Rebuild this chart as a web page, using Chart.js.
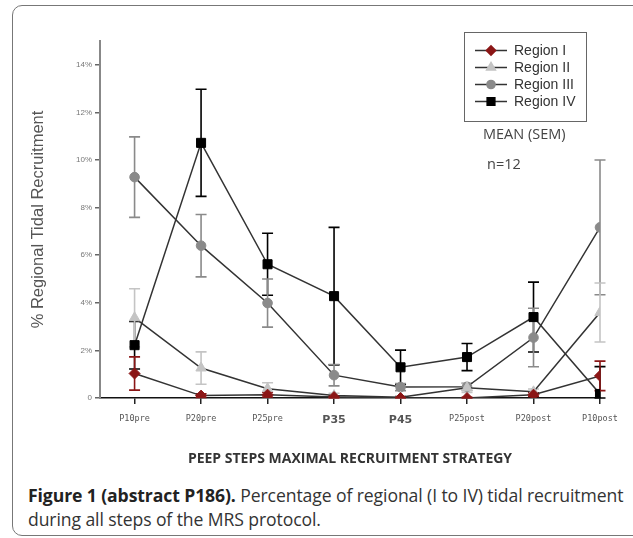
<!DOCTYPE html>
<html>
<head>
<meta charset="utf-8">
<script src="https://cdn.jsdelivr.net/npm/chart.js@4/dist/chart.umd.min.js"></script>
<style>
body { margin: 0; background: #fff; }
#wrap { position: relative; width: 633px; height: 538px; overflow: hidden; }
#frame { position: absolute; left: 12px; top: 5px; width: 630px; height: 529px; border: 1.5px solid #777; border-radius: 10px; }
#chart { position: absolute; left: 0; top: 0; }
#caption { position: absolute; left: 28px; top: 483px; width: 600px; font-family: "Open Sans", sans-serif; font-size: 17.6px; line-height: 24px; color: #333; letter-spacing: -0.1px; }
#caption b { color: #222; }
</style>
</head>
<body>
<div id="wrap">
  <div id="frame"></div>
  <canvas id="chart" width="633" height="480"></canvas>
  <div id="caption"><b>Figure 1 (abstract P186).</b> Percentage of regional (I to IV) tidal recruitment during all steps of the MRS protocol.</div>
</div>
<script>
const steps = ['P10pre', 'P20pre', 'P25pre', 'P35', 'P45', 'P25post', 'P20post', 'P10post'];
const yTicks = [0, 2, 4, 6, 8, 10, 12, 14];

// mean values (%)
const region1 = [1.03, 0.10, 0.14, 0.04, 0.0, 0.0, 0.14, 0.93];
const region2 = [3.37, 1.26, 0.39, 0.10, 0.03, 0.43, 0.26, 3.59];
const region3 = [9.28, 6.40, 3.99, 0.96, 0.46, 0.47, 2.54, 7.17];
const region4 = [2.22, 10.72, 5.62, 4.28, 1.29, 1.72, 3.40, 0.17];

// SEM (%)
const sem1 = [0.70, 0.08, 0.10, 0.05, 0.03, 0.03, 0.08, 0.62];
const sem2 = [1.22, 0.68, 0.25, 0.10, 0.06, 0.20, 0.12, 1.24];
const sem3 = [1.69, 1.31, 1.01, 0.45, 0.15, 0.15, 1.23, 2.83];
const sem4 = [1.00, 2.25, 1.30, 2.89, 0.72, 0.57, 1.47, 1.15];

function pts(arr) { return arr.map((v, i) => ({ x: i, y: v })); }

const errorBars = {
  id: 'errorBars',
  beforeDatasetsDraw(chart) {
    const c = chart.ctx, xs = chart.scales.x, ys = chart.scales.y;
    chart.data.datasets.slice().reverse().forEach(ds => {
      c.save();
      c.strokeStyle = ds.errColor;
      c.lineWidth = 1.6;
      ds.data.forEach((p, i) => {
        const x = xs.getPixelForValue(p.x);
        const top = ys.getPixelForValue(p.y + ds.sem[i]);
        const bot = ys.getPixelForValue(Math.max(0, p.y - ds.sem[i]));
        c.beginPath();
        c.moveTo(x, top); c.lineTo(x, bot);
        c.moveTo(x - 5.5, top); c.lineTo(x + 5.5, top);
        c.moveTo(x - 5.5, bot); c.lineTo(x + 5.5, bot);
        c.stroke();
      });
      c.restore();
    });
  }
};

const boxLegend = {
  id: 'boxLegend',
  afterDraw(chart) {
    const c = chart.ctx;
    c.save();
    c.strokeStyle = '#666';
    c.lineWidth = 1;
    c.strokeRect(464.5, 32.5, 122, 89);
    chart.data.datasets.forEach((ds, i) => {
      const y = 50.5 + i * 17;
      c.strokeStyle = '#333';
      c.lineWidth = 1.5;
      c.beginPath(); c.moveTo(475, y); c.lineTo(507, y); c.stroke();
      c.fillStyle = ds.pointBackgroundColor;
      c.strokeStyle = ds.pointBackgroundColor;
      Chart.helpers.drawPoint(c, { pointStyle: ds.pointStyle, radius: ds.pointRadius * 0.85, borderWidth: 1 }, 491, y);
      c.fillStyle = '#333';
      c.font = '14px "Liberation Sans", Arial, sans-serif';
      c.textBaseline = 'middle';
      c.fillText(ds.label, 514, y + 1);
    });
    c.fillStyle = '#444';
    c.font = '14.5px "Open Sans", sans-serif';
    c.textAlign = 'left';
    c.fillText('MEAN (SEM)', 483, 135);
    c.fillText('n=12', 487, 165);
    c.restore();
  }
};

const mk = (label, data, sem, color, style, r) => ({
  label: label,
  data: pts(data),
  sem: sem,
  errColor: color,
  borderColor: '#333',
  borderWidth: 1.5,
  pointStyle: style,
  pointRadius: r,
  pointBackgroundColor: color,
  pointBorderColor: color,
  pointBorderWidth: 1,
  fill: false,
  tension: 0
});

new Chart(document.getElementById('chart'), {
  type: 'line',
  data: {
    datasets: [
      mk('Region I', region1, sem1, '#8b1616', 'rectRot', 5.5),
      mk('Region II', region2, sem2, '#c4c4c4', 'triangle', 6),
      mk('Region III', region3, sem3, '#8a8a8a', 'circle', 4.8),
      mk('Region IV', region4, sem4, '#000000', 'rect', 6.4)
    ]
  },
  options: {
    responsive: false,
    animation: false,
    layout: { padding: { left: 0, top: 41, right: 33, bottom: 0 } },
    plugins: { legend: { display: false }, tooltip: { enabled: false } },
    scales: {
      x: {
        type: 'linear',
        min: -0.52,
        max: 7,
        afterFit(s) { s.height = 82; },
        afterBuildTicks(s) { s.ticks = s.ticks.filter(t => Number.isInteger(t.value)); },
        ticks: {
          stepSize: 1,
          includeBounds: false,
          padding: 10,
          color: '#555',
          maxRotation: 0,
          autoSkip: false,
          font: ctx => {
            const lab = steps[ctx.tick ? ctx.tick.value : 0] || '';
            return lab.length <= 3
              ? { family: '"DejaVu Sans", sans-serif', size: 11, weight: 'bold' }
              : { family: '"DejaVu Sans Mono", monospace', size: 8.5 };
          },
          callback: v => steps[v] || ''
        },
        grid: { drawOnChartArea: false, tickLength: 6, color: '#222', lineWidth: 1.5 },
        border: { color: '#111', width: 1.5 },
        title: {
          display: true,
          text: 'PEEP STEPS MAXIMAL RECRUITMENT STRATEGY',
          color: '#333',
          font: { family: '"Open Sans", sans-serif', size: 14, weight: 'bold' },
          padding: { top: 0, bottom: 13 }
        }
      },
      y: {
        min: 0,
        max: 15,
        afterFit(s) { s.width = 100; },
        afterBuildTicks(s) { s.ticks = yTicks.map(v => ({ value: v })); },
        ticks: {
          stepSize: 2,
          includeBounds: false,
          padding: 3,
          color: '#777',
          font: { family: '"Liberation Sans", Arial, sans-serif', size: 8 },
          callback: v => v === 0 ? '0' : v + '%'
        },
        grid: { drawOnChartArea: false, tickLength: 5, color: '#666', lineWidth: 1.5 },
        border: { color: '#888', width: 2 },
        title: {
          display: true,
          text: '% Regional Tidal Recruitment',
          color: '#555',
          font: { family: '"Liberation Sans", Arial, sans-serif', size: 16.5 },
          padding: { top: 29 }
        }
      }
    }
  },
  plugins: [errorBars, boxLegend]
});
</script>
</body>
</html>
